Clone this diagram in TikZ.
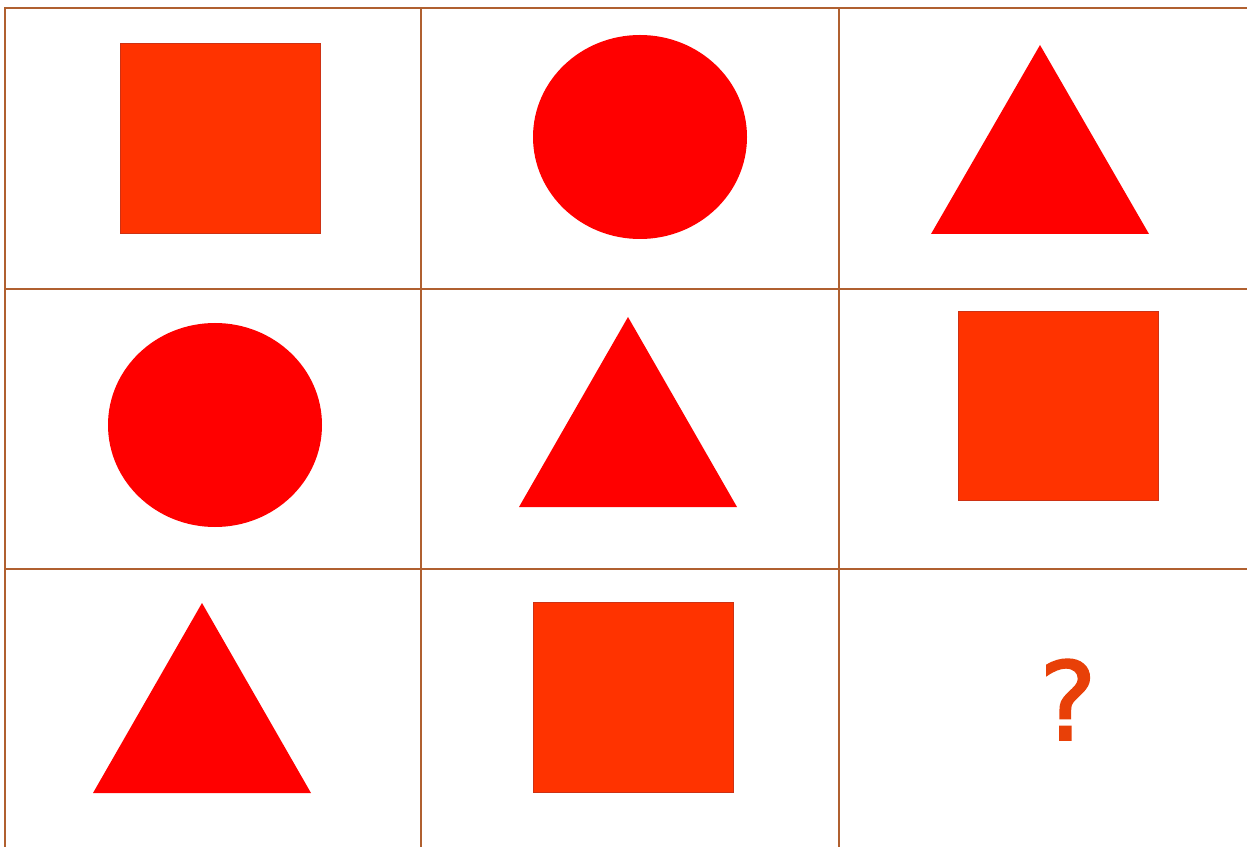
\documentclass[tikz,border=0pt]{standalone}
\usepackage{fontspec}
\newfontfamily\qfont[FakeBold=1.5]{DejaVu Sans}
\usepackage{tikz}
\usetikzlibrary{positioning}
\definecolor{gridbrown} {RGB}{176,96,48}
\definecolor{sqorange}  {RGB}{255,51,0}
\definecolor{sqedge}    {RGB}{205,50,20}
\definecolor{shapered}  {RGB}{255,0,0}
\definecolor{qorange}   {RGB}{232,64,8}

\begin{document}
\begin{tikzpicture}[x=0.02cm,y=-0.02cm,
  gridline/.style={draw=gridbrown,line width=1.1pt},
  sq/.style={fill=sqorange,draw=sqedge,line width=0.5pt},
  rnd/.style={fill=shapered},
  tri/.style={fill=shapered},
  qmark/.style={font=\qfont\fontsize{62}{62}\selectfont,text=qorange,
                inner sep=0pt,anchor=base},
]

%% Canvas
\useasboundingbox (0,0) rectangle (1247,847);
\fill[white] (0,0) rectangle (1247,847);

%% Grid: outer edges, then inner lines
\draw[gridline] (5,847) -- (5,8) -- (1247,8);
\foreach \x in {421,839}{
  \draw[gridline] (\x,8) -- (\x,847);
}
\foreach \y in {289,569}{
  \draw[gridline] (5,\y) -- (1247,\y);
}

%% Squares (x0,y0 -> x1,y1)
\foreach \a/\b/\c/\d in {
  120/43/320/233,
  958/311/1158/500,
  533/602/733/792
}{
  \draw[sq] (\a,\b) rectangle (\c,\d);
}

%% Circles (cx,cy, rx, ry)
\foreach \a/\b in {640/137, 215/425}{
  \fill[rnd] (\a,\b) ellipse [x radius=107, y radius=102];
}

%% Triangles (apex x, apex y, base y)
\foreach \a/\b/\c in {
  1040/45/234,
  628/317/507,
  202/603/793
}{
  \fill[tri] (\a,\b) -- (\a+109,\c) -- (\a-109,\c) -- cycle;
}

%% Missing cell
\node[qmark] (ask) at (1068,740) {?};

\end{tikzpicture}
\end{document}
